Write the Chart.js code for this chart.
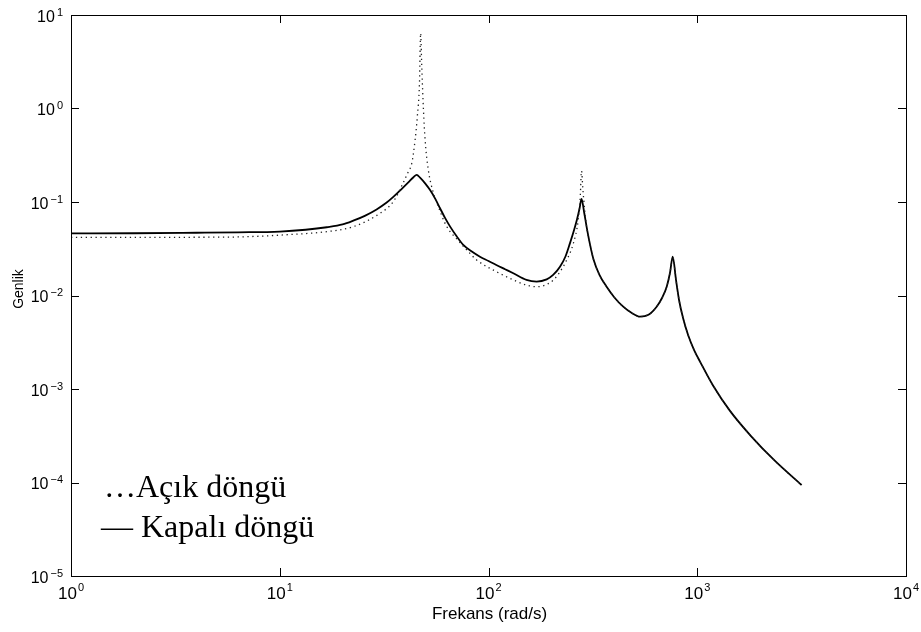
<!DOCTYPE html>
<html>
<head>
<meta charset="utf-8">
<script src="https://cdn.jsdelivr.net/npm/chart.js@4/dist/chart.umd.min.js"></script>
<style>
    html, body { margin: 0; padding: 0; background: #fff; }
    #wrap { width: 921px; height: 632px; position: relative; }
</style>
</head>
<body>
<div id="wrap"><canvas id="bode"></canvas></div>
<script>
// Kapalı döngü (solid) - frekans / genlik
const closedFreq = [
    1, 2, 4, 6.3, 10, 13.3, 16.8, 20, 22.5, 25.7, 29.1, 32.4, 35, 38, 41.3, 43.7,
    45.3, 47, 49.7, 52.5, 55.6, 58.6, 61.9, 65.5, 70.5, 75.7, 83.2, 91, 100, 109,
    120, 131.5, 152, 170, 190, 204, 220, 234, 245.5, 257, 265, 273, 279, 287, 295,
    306, 318, 340, 368, 401, 442, 484, 532, 584, 639, 678, 714, 740, 763, 791, 818,
    855, 904, 966, 1033, 1190, 1435, 1809, 2358, 3162,
];
const closedAmp = [
    0.0462, 0.0463, 0.0469, 0.0474, 0.0483, 0.0505, 0.0537, 0.0575, 0.0631, 0.0716,
    0.0832, 0.098, 0.1134, 0.135, 0.162, 0.184, 0.195, 0.182, 0.158, 0.134, 0.108,
    0.0857, 0.0676, 0.0545, 0.0427, 0.0347, 0.0295, 0.026, 0.0234, 0.0212, 0.0191,
    0.0173, 0.0147, 0.0141, 0.0149, 0.0166, 0.0203, 0.0263, 0.0361, 0.0501, 0.0641,
    0.0851, 0.108, 0.0782, 0.0545, 0.0356, 0.0246, 0.0166, 0.0124, 0.00953, 0.00759,
    0.00653, 0.00593, 0.00622, 0.00759, 0.0094, 0.0124, 0.0174, 0.026, 0.0147,
    0.00895, 0.00574, 0.00378, 0.00261, 0.00195, 0.00109, 0.000583, 0.000314,
    0.00017, 0.000094,
];

// Açık döngü (dotted)
const openFreq = [
    1, 2, 5.57, 11.6, 16.8, 22.5, 30.2, 35, 38.9, 41.3, 42.9, 44.5, 45.6, 46.7, 47.3,
    47.9, 48.8, 49.7, 51.5, 54.5, 57.5, 63.1, 70.8, 78.7, 87.7, 109, 131.5, 151, 170,
    188, 205, 221, 237, 255, 269, 275, 279, 283, 286, 295, 306, 318, 340, 368, 401,
    442, 484, 532, 584, 639, 678, 714, 740, 763, 791, 818, 855, 904, 966, 1033, 1190,
    1435, 1809, 2358, 3162,
];
const openAmp = [
    0.0419, 0.0419, 0.0421, 0.0451, 0.0482, 0.0545, 0.0757, 0.101, 0.158, 0.211,
    0.259, 0.46, 0.817, 1.86, 6.37, 2.8, 0.964, 0.46, 0.22, 0.124, 0.0891, 0.0545,
    0.0398, 0.0307, 0.024, 0.018, 0.0147, 0.013, 0.0124, 0.013, 0.0147, 0.0182,
    0.024, 0.0361, 0.0641, 0.112, 0.215, 0.141, 0.105, 0.0545, 0.0356, 0.0246,
    0.0166, 0.0124, 0.00953, 0.00759, 0.00653, 0.00593, 0.00622, 0.00759, 0.0094,
    0.0124, 0.0174, 0.026, 0.0147, 0.00895, 0.00574, 0.00378, 0.00261, 0.00195,
    0.00109, 0.000583, 0.000314, 0.00017, 0.000094,
];

const xTicks = [1, 10, 100, 1000, 10000];
const xTickExp = ["0", "1", "2", "3", "4"];
const yTicks = [1e-5, 1e-4, 1e-3, 1e-2, 1e-1, 1, 10];
const yTickExp = ["\u22125", "\u22124", "\u22123", "\u22122", "\u22121", "0", "1"];

const xTitle = "Frekans (rad/s)";
const yTitle = "Genlik";
const legendLines = ["\u2026A\u00e7\u0131k d\u00f6ng\u00fc", "\u2014 Kapal\u0131 d\u00f6ng\u00fc"];

const toPoints = (xs, ys) => xs.map((x, i) => ({ x: x, y: ys[i] }));

// draws the box, inward ticks, power-of-ten labels and the text legend
const matlabAxes = {
    id: "matlabAxes",
    afterDraw(chart) {
        const ctx = chart.ctx;
        const a = chart.chartArea;
        const xs = chart.scales.x;
        const ys = chart.scales.y;
        const tl = 8;

        ctx.save();
        ctx.strokeStyle = "#000";
        ctx.lineWidth = 1;
        ctx.strokeRect(Math.round(a.left) + 0.5, Math.round(a.top) + 0.5,
            Math.round(a.right - a.left), Math.round(a.bottom - a.top));

        ctx.beginPath();
        xTicks.forEach((v) => {
            const px = Math.round(xs.getPixelForValue(v)) + 0.5;
            ctx.moveTo(px, a.bottom); ctx.lineTo(px, a.bottom - tl);
            ctx.moveTo(px, a.top); ctx.lineTo(px, a.top + tl);
        });
        yTicks.forEach((v) => {
            const py = Math.round(ys.getPixelForValue(v)) + 0.5;
            ctx.moveTo(a.left, py); ctx.lineTo(a.left + tl, py);
            ctx.moveTo(a.right, py); ctx.lineTo(a.right - tl, py);
        });
        ctx.stroke();

        ctx.fillStyle = "#000";
        ctx.textBaseline = "alphabetic";
        const base = "Arial, 'Liberation Sans', sans-serif";

        // x tick labels
        xTicks.forEach((v, i) => {
            const px = xs.getPixelForValue(v);
            ctx.font = "17px " + base;
            const w1 = ctx.measureText("10").width;
            ctx.font = "11px " + base;
            const w2 = ctx.measureText(xTickExp[i]).width;
            const x0 = px - (w1 + 1 + w2) / 2;
            ctx.textAlign = "left";
            ctx.font = "17px " + base;
            ctx.fillText("10", x0, 599);
            ctx.font = "11px " + base;
            ctx.fillText(xTickExp[i], x0 + w1 + 1, 591);
        });

        // y tick labels
        yTicks.forEach((v, i) => {
            const py = ys.getPixelForValue(v);
            ctx.font = "11px " + base;
            const w2 = ctx.measureText(yTickExp[i]).width;
            ctx.textAlign = "left";
            const xe = a.left - 8;
            ctx.fillText(yTickExp[i], xe - w2, py + 0.5);
            ctx.font = "16px " + base;
            ctx.textAlign = "right";
            ctx.fillText("10", xe - w2 - 2, py + 6.5);
        });

        // axis titles
        ctx.font = "17px " + base;
        ctx.textAlign = "center";
        ctx.fillText(xTitle, (a.left + a.right) / 2 + 1, 619);

        ctx.save();
        ctx.translate(23, 289);
        ctx.rotate(-Math.PI / 2);
        ctx.font = "14px " + base;
        ctx.fillText(yTitle, 0, 0);
        ctx.restore();

        // legend text
        ctx.font = "32px 'Times New Roman', 'Liberation Serif', serif";
        ctx.textAlign = "left";
        ctx.fillText(legendLines[0], 104, 497);
        ctx.fillText(legendLines[1], 101, 537);
        ctx.restore();
    },
};

new Chart(document.getElementById("bode"), {
    type: "line",
    data: {
        datasets: [
            {
                label: "Açık döngü",
                data: toPoints(openFreq, openAmp),
                borderColor: "#222",
                borderWidth: 1.3,
                borderDash: [1.3, 3.6],
                pointRadius: 0,
                cubicInterpolationMode: "monotone",
                fill: false,
            },
            {
                label: "Kapalı döngü",
                data: toPoints(closedFreq, closedAmp),
                borderColor: "#000",
                borderWidth: 1.8,
                pointRadius: 0,
                cubicInterpolationMode: "monotone",
                fill: false,
            },
        ],
    },
    options: {
        responsive: true,
        maintainAspectRatio: false,
        animation: false,
        devicePixelRatio: 1,
        layout: { padding: { left: 71, right: 15, top: 15, bottom: 56 } },
        plugins: { legend: { display: false }, tooltip: { enabled: false } },
        scales: {
            x: { type: "logarithmic", min: 1, max: 10000, display: false },
            y: { type: "logarithmic", min: 1e-5, max: 10, display: false },
        },
    },
    plugins: [matlabAxes],
});
</script>
</body>
</html>
